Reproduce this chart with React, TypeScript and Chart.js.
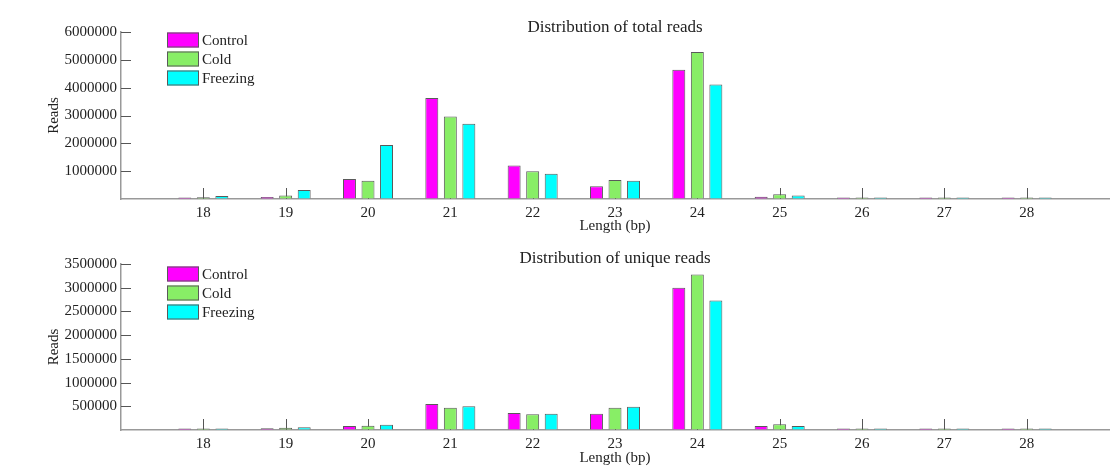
import { useEffect, useRef } from 'react';
import { Chart, registerables } from 'chart.js';

Chart.register(...registerables);

const categories = ['18', '19', '20', '21', '22', '23', '24', '25', '26', '27', '28'];
const seriesNames = ['Control', 'Cold', 'Freezing'];
const seriesColors = ['#FF00FF', '#88EE66', '#00FFFF'];

const totalControl = [30000, 70000, 720000, 3630000, 1200000, 460000, 4640000, 80000, 20000, 10000, 5000];
const totalCold = [60000, 130000, 660000, 2960000, 1000000, 680000, 5280000, 170000, 30000, 15000, 5000];
const totalFreezing = [110000, 320000, 1940000, 2700000, 910000, 660000, 4110000, 130000, 20000, 10000, 4000];

const uniqueControl = [15000, 35000, 85000, 550000, 360000, 340000, 3000000, 85000, 10000, 5000, 3000];
const uniqueCold = [20000, 45000, 90000, 470000, 330000, 470000, 3280000, 120000, 15000, 8000, 4000];
const uniqueFreezing = [30000, 60000, 110000, 500000, 340000, 490000, 2730000, 85000, 10000, 5000, 3000];

const totalMax = 6000000;
const totalStep = 1000000;
const uniqueMax = 3500000;
const uniqueStep = 500000;

const FONT = "'Liberation Serif', 'DejaVu Serif', serif";

type PanelProps = {
  title: string;
  values: number[][];
  yMax: number;
  yStep: number;
  height: number;
  padTop: number;
  xAxisHeight: number;
  xTitlePad: number;
  legendOffset: number;
  titleOffset: number;
};

function Panel(props: PanelProps) {
  const ref = useRef<HTMLCanvasElement | null>(null);
  useEffect(() => {
    if (!ref.current) return;
    const labels = ['', ...categories, ''];
    const datasets = props.values.map((vals, i) => ({
      label: seriesNames[i],
      data: [null, ...vals, null],
      backgroundColor: seriesColors[i],
      borderColor: '#5a5a5a',
      borderWidth: 1,
      minBarLength: 1.5,
      categoryPercentage: 0.675,
      barPercentage: 0.7,
    }));

    const decor = {
      id: 'decor',
      beforeDatasetsDraw(chart: any) {
        const { ctx, chartArea, scales } = chart;
        const x = scales.x;
        const y = scales.y;
        ctx.save();
        ctx.strokeStyle = '#555';
        ctx.lineWidth = 1;
        x.ticks.forEach((t: any, i: number) => {
          if (i === 0 || i === x.ticks.length - 1) return;
          const px = Math.round(x.getPixelForTick(i)) + 0.5;
          ctx.beginPath();
          ctx.moveTo(px, chartArea.bottom);
          ctx.lineTo(px, chartArea.bottom - 11);
          ctx.stroke();
        });
        y.ticks.forEach((t: any) => {
          if (t.value <= 0) return;
          const py = Math.round(y.getPixelForValue(t.value)) + 0.5;
          ctx.beginPath();
          ctx.moveTo(chartArea.left, py);
          ctx.lineTo(chartArea.left + 10, py);
          ctx.stroke();
        });
        ctx.restore();
      },
      afterDraw(chart: any) {
        const { ctx, chartArea } = chart;
        ctx.save();
        ctx.fillStyle = '#222';
        ctx.font = `17px ${FONT}`;
        ctx.textAlign = 'center';
        ctx.textBaseline = 'middle';
        ctx.fillText(props.title, (chartArea.left + chartArea.right) / 2, chartArea.top + props.titleOffset);
        ctx.font = `15px ${FONT}`;
        ctx.textAlign = 'left';
        seriesNames.forEach((name, i) => {
          const cy = chartArea.top + props.legendOffset + i * 19;
          const bx = chartArea.left + 46;
          ctx.fillStyle = seriesColors[i];
          ctx.fillRect(bx, cy - 7.5, 32, 15);
          ctx.strokeStyle = '#5a5a5a';
          ctx.lineWidth = 1;
          ctx.strokeRect(bx + 0.5, cy - 7, 31, 14);
          ctx.fillStyle = '#222';
          ctx.fillText(name, bx + 35, cy + 1);
        });
        ctx.restore();
      },
    };

    const chart = new Chart(ref.current, {
      type: 'bar',
      data: { labels, datasets: datasets as any },
      options: {
        animation: false,
        responsive: true,
        maintainAspectRatio: false,
        layout: { padding: { top: props.padTop, right: 1, left: 0, bottom: 0 } },
        plugins: {
          legend: { display: false },
          title: { display: false },
          tooltip: { enabled: false },
        },
        scales: {
          x: {
            type: 'category',
            offset: false,
            grid: { display: true, drawOnChartArea: false, drawTicks: false },
            border: { display: true, color: '#999', width: 1.5 },
            ticks: {
              autoSkip: false,
              maxRotation: 0,
              padding: 5,
              color: '#222',
              font: { family: FONT, size: 15 },
            },
            title: {
              display: true,
              text: 'Length (bp)',
              color: '#222',
              font: { family: FONT, size: 15 },
              padding: { top: 0, bottom: props.xTitlePad },
            },
            afterFit(scale: any) {
              scale.height = props.xAxisHeight;
              scale.paddingLeft = 0;
              scale.paddingRight = 0;
            },
          },
          y: {
            min: 0,
            max: props.yMax,
            grid: { display: true, drawOnChartArea: false, drawTicks: false },
            border: { display: true, color: '#999', width: 1.5 },
            ticks: {
              stepSize: props.yStep,
              padding: 4,
              color: '#222',
              font: { family: FONT, size: 15 },
              callback: (v: any) => (Number(v) === 0 ? '' : String(v)),
            },
            title: {
              display: true,
              text: 'Reads',
              color: '#222',
              font: { family: FONT, size: 15 },
              padding: { top: 45, bottom: 0 },
            },
            afterFit(scale: any) {
              scale.width = 121;
            },
          },
        },
      },
      plugins: [decor],
    });
    return () => chart.destroy();
  }, []);
  return (
    <div style={{ position: 'relative', width: 1110, height: props.height }}>
      <canvas ref={ref} />
    </div>
  );
}

export default function App() {
  return (
    <div style={{ position: 'absolute', left: 0, top: 0, width: 1110, height: 473, background: '#fff' }}>
      <Panel
        title="Distribution of total reads"
        values={[totalControl, totalCold, totalFreezing]}
        yMax={totalMax}
        yStep={totalStep}
        height={236}
        padTop={32}
        xAxisHeight={37}
        xTitlePad={1}
        legendOffset={8}
        titleOffset={-4}
      />
      <Panel
        title="Distribution of unique reads"
        values={[uniqueControl, uniqueCold, uniqueFreezing]}
        yMax={uniqueMax}
        yStep={uniqueStep}
        height={237}
        padTop={28}
        xAxisHeight={43}
        xTitlePad={6}
        legendOffset={10}
        titleOffset={-5}
      />
    </div>
  );
}
